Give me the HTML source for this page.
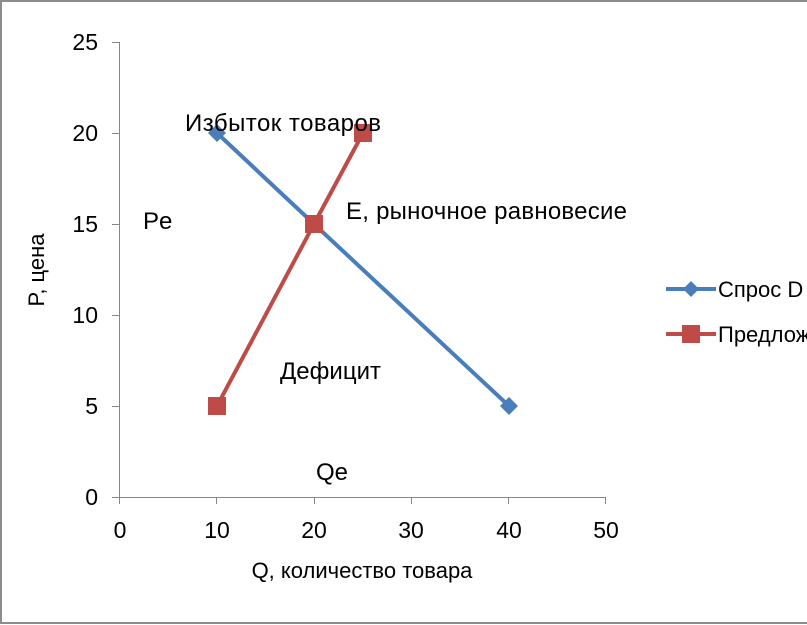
<!DOCTYPE html>
<html><head><meta charset="utf-8"><style>
body{margin:0;background:#fff;}
svg{display:block;font-family:"Liberation Sans","DejaVu Sans",sans-serif;}
</style></head><body>
<svg width="807" height="625" viewBox="0 0 807 625">
<rect width="807" height="625" fill="#fff"/>
<rect x="1" y="1" width="830" height="622" fill="none" stroke="#8c8c8c" stroke-width="2"/>
<g stroke="#868686" stroke-width="1" fill="none">
<line x1="119.5" y1="42" x2="119.5" y2="497"/>
<line x1="119.5" y1="497.5" x2="606" y2="497.5"/>
<line x1="112" y1="42.5" x2="119" y2="42.5"/>
<line x1="112" y1="133.5" x2="119" y2="133.5"/>
<line x1="112" y1="224.5" x2="119" y2="224.5"/>
<line x1="112" y1="315.5" x2="119" y2="315.5"/>
<line x1="112" y1="406.5" x2="119" y2="406.5"/>
<line x1="112" y1="497.5" x2="119" y2="497.5"/>
<line x1="119.5" y1="497" x2="119.5" y2="504"/>
<line x1="216.5" y1="497" x2="216.5" y2="504"/>
<line x1="314.5" y1="497" x2="314.5" y2="504"/>
<line x1="411.5" y1="497" x2="411.5" y2="504"/>
<line x1="508.5" y1="497" x2="508.5" y2="504"/>
<line x1="605.5" y1="497" x2="605.5" y2="504"/>
</g>
<g font-size="23" fill="#000" text-anchor="end">
<text x="98" y="50">25</text><text x="98" y="141">20</text><text x="98" y="232">15</text>
<text x="98" y="323">10</text><text x="98" y="414">5</text><text x="98" y="505">0</text>
</g>
<g font-size="23" fill="#000" text-anchor="middle">
<text x="120" y="538">0</text><text x="217" y="538">10</text><text x="314" y="538">20</text>
<text x="411" y="538">30</text><text x="509" y="538">40</text><text x="606" y="538">50</text>
</g>
<text x="362" y="578" font-size="22" text-anchor="middle">Q, количество товара</text>
<text transform="translate(44,270) rotate(-90)" font-size="22" text-anchor="middle">P, цена</text>
<polyline points="217,133 314,224 509,406" fill="none" stroke="#4a7ebb" stroke-width="4"/>
<polyline points="217,406 314,224 363,133" fill="none" stroke="#be4b48" stroke-width="4"/>
<g fill="#4a7ebb">
<polygon points="217,124 226,133 217,142 208,133"/>
<polygon points="314,215 323,224 314,233 305,224"/>
<polygon points="509,397 518,406 509,415 500,406"/>
</g>
<g fill="#be4b48">
<rect x="208" y="397" width="18" height="18"/>
<rect x="305" y="215" width="18" height="18"/>
<rect x="354" y="124" width="18" height="18"/>
</g>
<g font-size="24" fill="#000">
<text x="185" y="131" textLength="196">Избыток товаров</text>
<text x="143" y="229">Pe</text>
<text x="346" y="219" textLength="281">E, рыночное равновесие</text>
<text x="280" y="379" textLength="101">Дефицит</text>
<text x="316" y="480">Qe</text>
</g>
<line x1="666" y1="289" x2="716" y2="289" stroke="#4a7ebb" stroke-width="4"/>
<polygon points="691,281 699,289 691,297 683,289" fill="#4a7ebb"/>
<text x="718" y="297" font-size="22">Спрос D</text>
<line x1="666" y1="334" x2="716" y2="334" stroke="#be4b48" stroke-width="4"/>
<rect x="682" y="325" width="18" height="18" fill="#be4b48"/>
<text x="718" y="342" font-size="22">Предложение S</text>
</svg>
</body></html>
